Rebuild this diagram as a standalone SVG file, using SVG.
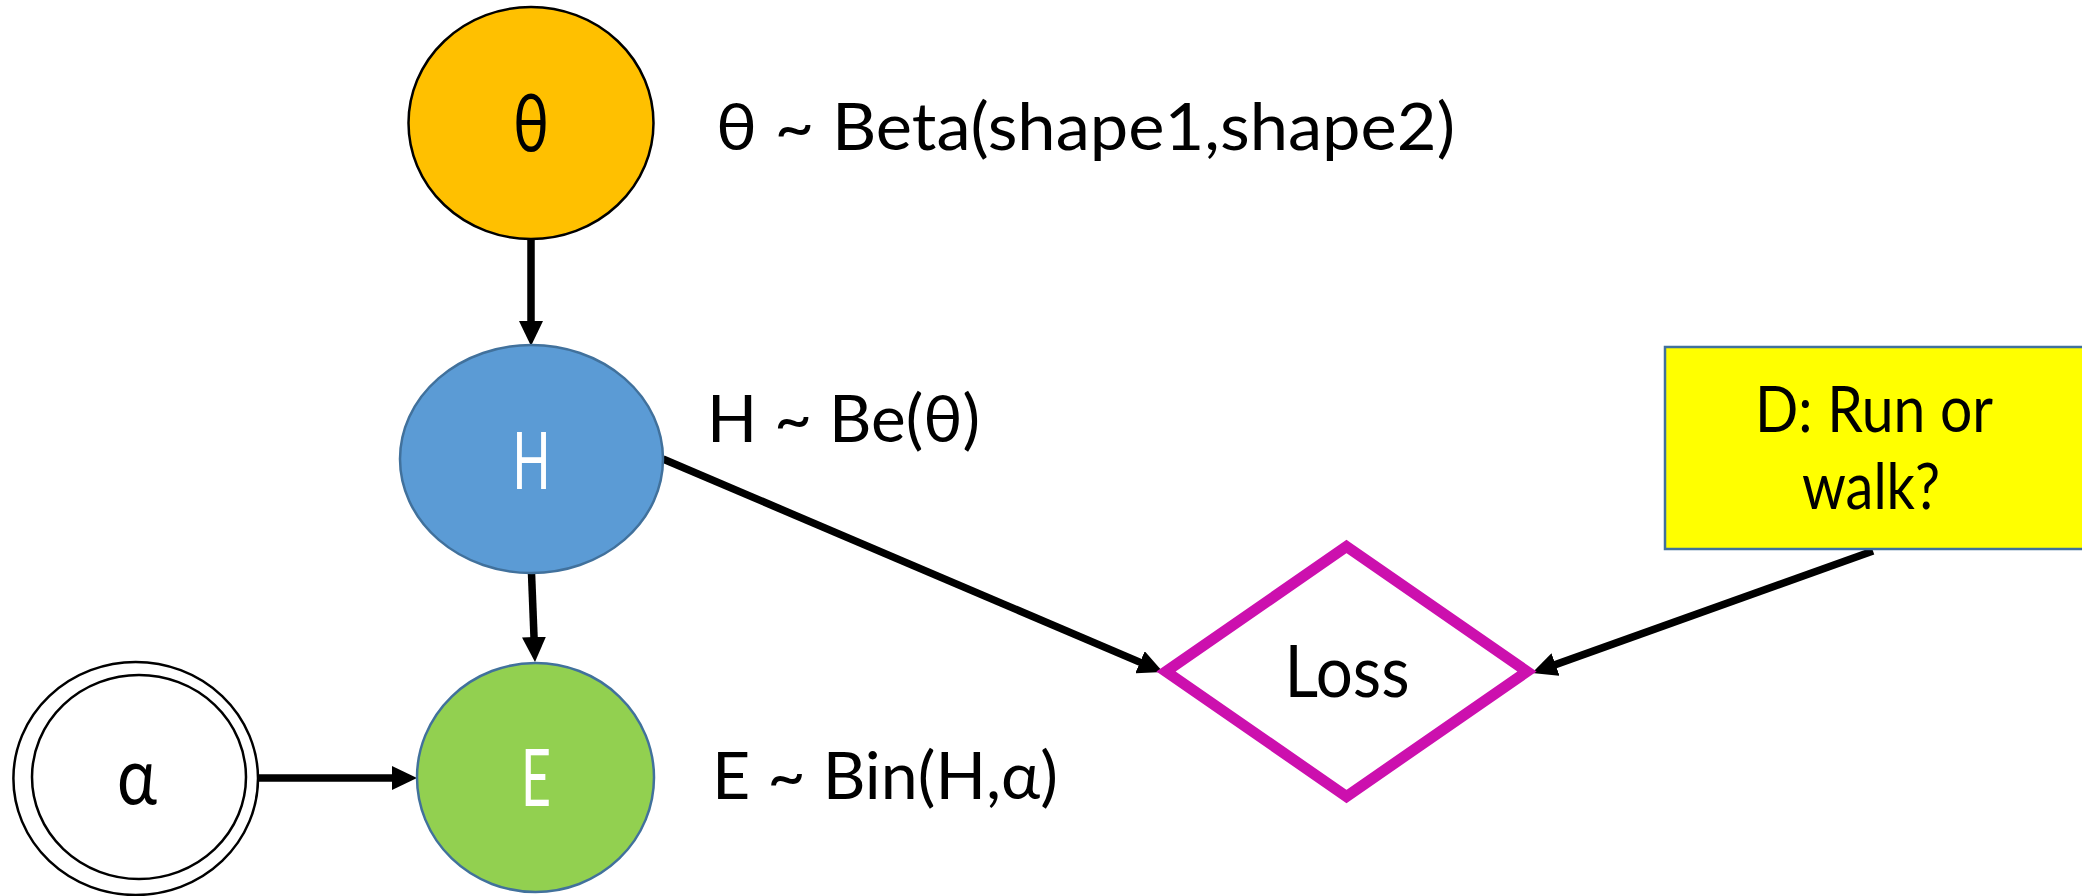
<svg xmlns="http://www.w3.org/2000/svg" width="2082" height="896" viewBox="0 0 2082 896">
  <style>
    .lbl { font-family: Lato, "Open Sans", "Liberation Sans", sans-serif; font-size: 66px; fill: #000; }
    .nodetxt { font-family: Lato, "Open Sans", "Liberation Sans", sans-serif; font-size: 80px; text-anchor: middle; }
    .edge { stroke: #000; stroke-width: 7.5; fill: none; marker-end: url(#arrow); }
  </style>
  <defs>
    <marker id="arrow" markerUnits="userSpaceOnUse" markerWidth="25" markerHeight="24" refX="15" refY="12" orient="auto">
      <path d="M0,0 L25,12 L0,24 Z" fill="#000"/>
    </marker>
  </defs>

  <rect width="2082" height="896" fill="#fff"/>

  <!-- connectors -->
  <g id="connectors">
    <line class="edge" x1="531" y1="240" x2="531" y2="336"/>
    <line class="edge" x1="531.5" y1="573" x2="534.6" y2="652"/>
    <line class="edge" x1="258" y1="778" x2="407" y2="778"/>
    <line class="edge" x1="663" y1="459" x2="1153.8" y2="668.1"/>
    <line class="edge" x1="1873" y1="551" x2="1541.4" y2="669.6"/>
  </g>

  <!-- theta: prior -->
  <g id="node-theta">
    <ellipse cx="531" cy="123" rx="122.5" ry="116" fill="#FFC000" stroke="#000" stroke-width="2.5"/>
    <text class="nodetxt" x="531" y="151" fill="#000" textLength="36" lengthAdjust="spacingAndGlyphs">θ</text>
  </g>
  <text class="lbl" x="716" y="150" textLength="739" lengthAdjust="spacingAndGlyphs">θ ~ Beta(shape1,shape2)</text>

  <!-- H: hidden state -->
  <g id="node-H">
    <ellipse cx="531.5" cy="459" rx="131.5" ry="114" fill="#5B9BD5" stroke="#41719C" stroke-width="2.5"/>
    <text class="nodetxt" x="531.5" y="489" fill="#fff" textLength="38" lengthAdjust="spacingAndGlyphs">H</text>
  </g>
  <text class="lbl" x="707" y="442" textLength="273" lengthAdjust="spacingAndGlyphs">H ~ Be(θ)</text>

  <!-- E: evidence -->
  <g id="node-E">
    <ellipse cx="535.5" cy="777.5" rx="118.5" ry="114.5" fill="#92D050" stroke="#41719C" stroke-width="2.5"/>
    <text class="nodetxt" x="536" y="806" fill="#fff" textLength="30" lengthAdjust="spacingAndGlyphs">E</text>
  </g>
  <text class="lbl" x="712" y="799" textLength="346" lengthAdjust="spacingAndGlyphs">E ~ Bin(H,α)</text>

  <!-- alpha: fixed parameter -->
  <g id="node-alpha">
    <ellipse cx="135.7" cy="778.5" rx="122.3" ry="116.5" fill="#fff" stroke="#000" stroke-width="2.5"/>
    <ellipse cx="139" cy="777" rx="107" ry="102" fill="#fff" stroke="#000" stroke-width="2.5"/>
    <text class="nodetxt" x="137" y="804" fill="#000" textLength="40" lengthAdjust="spacingAndGlyphs">α</text>
  </g>

  <!-- Loss: utility node -->
  <g id="node-loss">
    <polygon points="1346.5,546.5 1527,671.5 1346.5,796.5 1166,671.5" fill="#fff" stroke="#CC10AE" stroke-width="11"/>
    <text class="nodetxt" x="1347" y="697" fill="#000" style="font-size:72px" textLength="125" lengthAdjust="spacingAndGlyphs">Loss</text>
  </g>

  <!-- D: decision node -->
  <g id="node-D">
    <rect x="1665" y="347" width="430" height="202" fill="#FFFF00" stroke="#41719C" stroke-width="2.5"/>
    <text class="lbl" x="1874" y="432" text-anchor="middle" style="font-size:64px" textLength="238" lengthAdjust="spacingAndGlyphs">D: Run or</text>
    <text class="lbl" x="1871" y="509" text-anchor="middle" style="font-size:64px" textLength="138" lengthAdjust="spacingAndGlyphs">walk?</text>
  </g>
</svg>
